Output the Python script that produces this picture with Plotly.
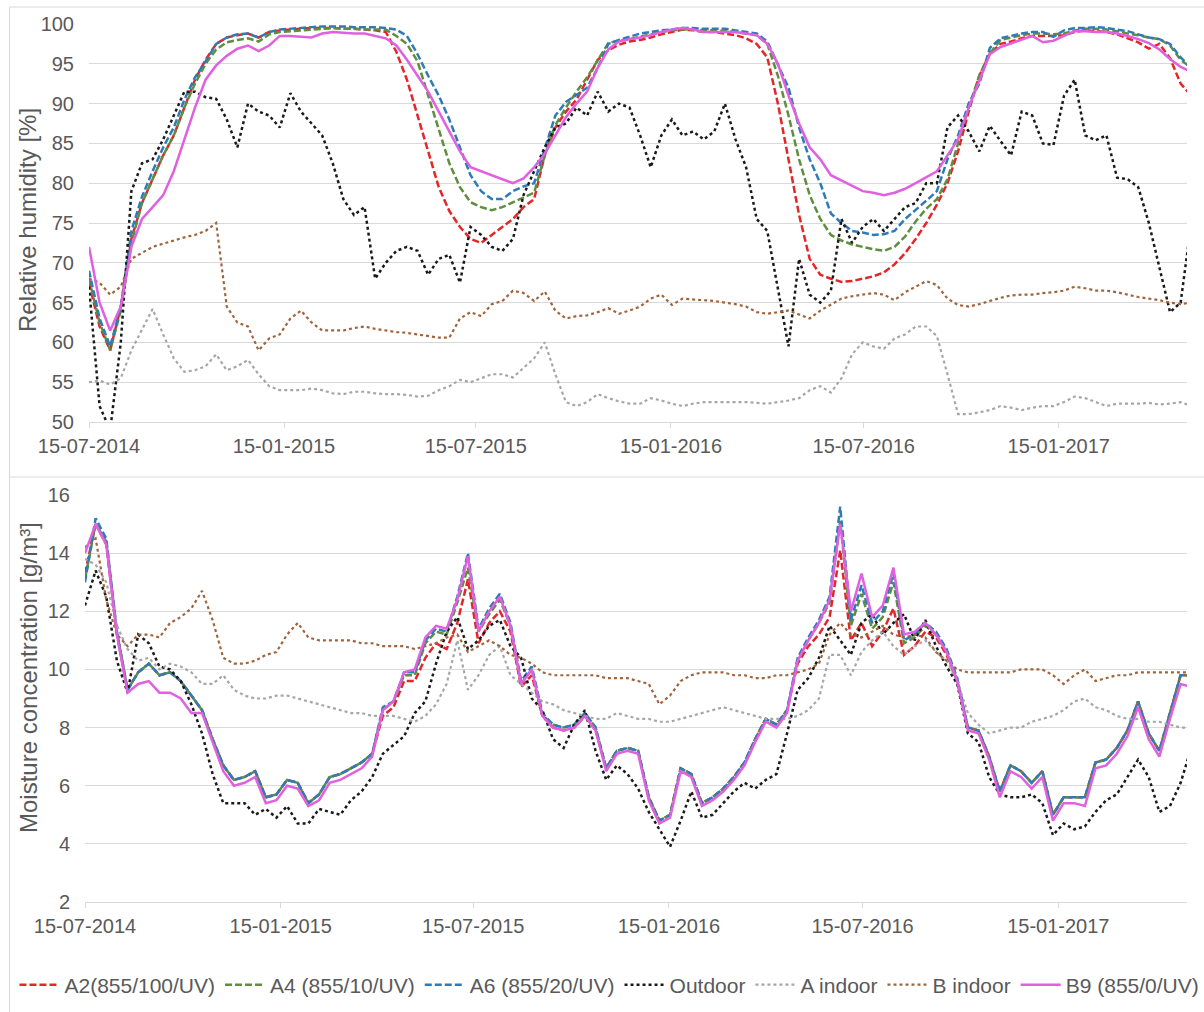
import pandas as pd
import plotly.graph_objects as go

# Sampling dates: every 10 days from 15-07-2014
dates = pd.date_range("2014-07-15", periods=105, freq="10D")

x_start = "2014-07-15"
x_end = "2017-05-16"
tick_dates = ["2014-07-15", "2015-01-15", "2015-07-15", "2016-01-15", "2016-07-15", "2017-01-15"]

series_names = ["A2(855/100/UV)", "A4 (855/10/UV)", "A6 (855/20/UV)", "Outdoor", "A indoor", "B indoor", "B9 (855/0/UV)"]

# Relative humidity [%]
rh_a2 = [67.5, 62, 59, 64.5, 73, 77.5, 80.5, 83.5, 86, 89.5,
         93, 95.5, 97.5, 98.3, 98.6, 98.8, 98.3, 99, 99.2, 99.3,
         99.4, 99.5, 99.5, 99.5, 99.4, 99.4, 99.3, 99.2, 99, 96.5,
         93, 88.5, 84, 79.5, 76.5, 74.5, 73, 72.5, 73.5, 74.5,
         75.5, 77, 78, 83.5, 87, 89, 90.5, 93, 95.5, 96.7,
         97.4, 97.8, 98, 98.3, 98.7, 99, 99.3, 99.2, 99, 99,
         98.8, 98.6, 98.2, 97.5, 95.8, 90, 83, 76, 70.5, 68.5,
         68, 67.6, 67.7, 68, 68.3, 68.8, 69.8, 71.2, 73, 75,
         77.3, 80, 84, 89, 93.5, 96.3, 97.5, 97.8, 98.2, 98.5,
         98.5, 98.5, 98.6, 99, 99.2, 99.1, 99, 98.7, 98.2, 97.7,
         96.9, 97.5, 95.7, 92.5, 91]
rh_a4 = [68, 62.5, 59, 64, 72.5, 77.5, 80.5, 83.5, 86, 89.5,
         92.5, 95, 96.8, 97.7, 98, 98.2, 97.8, 98.7, 99, 99.1,
         99.2, 99.3, 99.4, 99.5, 99.4, 99.4, 99.3, 99.3, 99.3, 98.5,
         97.5, 95.3, 91, 86.5, 82.5, 79.5, 77.6, 77, 76.6, 77,
         77.6, 78.2, 78.8, 83.5, 87.3, 89.5, 91.5, 93.3, 95.5, 97.6,
         97.9, 98.1, 98.4, 98.7, 99, 99.2, 99.3, 99.3, 99.2, 99.2,
         99.1, 99, 98.8, 98.6, 97.5, 93.5, 88.5, 83, 78.5, 75.5,
         73.5, 72.8, 72.3, 72, 71.7, 71.5, 72, 73.3, 75.2, 76.8,
         78, 80.5, 85, 89.5, 93.5, 96.3, 98, 98.3, 98.6, 98.8,
         98.8, 98.7, 98.8, 99.2, 99.4, 99.4, 99.3, 99.1, 98.8, 98.6,
         98.3, 98.1, 97.3, 95.5, 94.5]
rh_a6 = [69, 63, 59.5, 64.5, 74, 78.3, 81.5, 84.5, 87, 90.5,
         93.3, 95.3, 97.5, 98.3, 98.7, 98.8, 98.3, 99, 99.3, 99.4,
         99.5, 99.6, 99.7, 99.7, 99.7, 99.6, 99.6, 99.6, 99.5, 99.3,
         98.5, 96.2, 93.5, 91, 88, 84.5, 81, 79, 78, 78,
         79, 79.6, 80, 84.3, 88.5, 90.2, 91.1, 92, 94.5, 97.5,
         98, 98.4, 98.8, 99, 99.2, 99.3, 99.5, 99.5, 99.4, 99.4,
         99.4, 99.2, 99, 98.8, 97.8, 95, 92, 87, 83, 80,
         76.2, 75, 74, 73.8, 73.5, 73.6, 74, 75.5, 76.6, 77.8,
         79, 83, 86, 90, 92.5, 97, 98.2, 98.5, 98.8, 99,
         99, 98.4, 99.2, 99.5, 99.5, 99.6, 99.5, 99.3, 99.1, 98.7,
         98.3, 98.1, 97.5, 95.8, 94.5]
rh_out = [67, 52, 49, 60, 79, 82.5, 83, 85.5, 88.5, 91.5,
          91.5, 90.8, 90.6, 88, 84.5, 90, 89, 88.5, 87, 91.3,
          89, 87.5, 86, 82.5, 78, 76, 77, 68, 70, 71.5,
          72, 71.5, 68.5, 70.5, 71, 67.5, 74.5, 73.5, 72, 71.5,
          73, 78.5, 81.5, 84.5, 87, 87.5, 89.5, 88.5, 91.5, 89,
          90, 89.5, 86, 82, 86, 88, 86, 86.5, 85.5, 86.5,
          90, 85.5, 82, 75.5, 74, 67, 59.5, 70.5, 66, 65,
          66.5, 75.5, 72.5, 74.5, 75.5, 74, 75.5, 77, 77.5, 80,
          80, 87, 88.5, 86.5, 84, 87.2, 85.3, 83.5, 89, 88.5,
          85, 84.8, 91, 93, 86, 85.4, 86, 80.7, 80.5, 79.5,
          75, 69.5, 63.8, 65, 75]
rh_ain = [55, 55.2, 54.7, 55.5, 59, 61.5, 64.2, 61, 58, 56.3,
          56.5, 57, 58.5, 56.5, 57, 57.8, 56, 54.5, 54, 54,
          54, 54.2, 54, 53.6, 53.5, 53.8, 53.8, 53.6, 53.5, 53.5,
          53.4, 53.2, 53.3, 54, 54.5, 55.3, 55, 55.5, 56, 56,
          55.6, 56.8, 58, 60, 56, 52.5, 52, 52.5, 53.5, 53,
          52.6, 52.3, 52.3, 53, 52.7, 52.3, 52, 52.3, 52.5, 52.5,
          52.5, 52.5, 52.5, 52.4, 52.3, 52.5, 52.7, 53, 54, 54.5,
          53.7, 55.5, 58.5, 60, 59.5, 59.2, 60.5, 61, 62, 62,
          60.8, 56, 51, 51, 51.2, 51.5, 52, 51.8, 51.5, 51.8,
          52, 52, 52.5, 53.2, 53, 52.5, 52, 52.3, 52.3, 52.3,
          52.4, 52.2, 52.3, 52.5, 52]
rh_bin = [68, 67.5, 66, 67, 70.5, 71.3, 72, 72.4, 72.8, 73.2,
          73.5, 74, 75, 64.5, 62.5, 62, 59, 60.5, 61, 63,
          64, 62.5, 61.5, 61.5, 61.5, 61.8, 62, 61.7, 61.5, 61.3,
          61.2, 61, 60.8, 60.6, 60.6, 63, 63.8, 63.3, 64.8, 65.2,
          66.5, 66.2, 65.2, 66.4, 64, 63, 63.3, 63.4, 63.8, 64.3,
          63.6, 64, 64.5, 65.5, 66, 64.7, 65.5, 65.4, 65.3, 65.2,
          65, 64.8, 64.5, 63.8, 63.6, 63.8, 64, 63.5, 63, 64,
          64.8, 65.5, 65.8, 66, 66.2, 66, 65.3, 66.3, 67, 67.7,
          67.2, 65.5, 64.7, 64.5, 64.8, 65.2, 65.6, 65.9, 66, 66,
          66.2, 66.3, 66.5, 67, 66.8, 66.5, 66.5, 66.3, 66, 65.7,
          65.5, 65.3, 65, 64.8, 65]
rh_b9 = [72, 65, 61.5, 64.5, 72, 75.5, 77, 78.5, 81.5, 85.5,
         89.5, 93, 94.8, 96, 96.9, 97.3, 96.6, 97.3, 98.5, 98.5,
         98.4, 98.3, 98.8, 99, 98.9, 98.8, 98.8, 98.5, 98.2, 97.3,
         95.5, 93.5, 91.5, 89, 86.5, 84, 82, 81.5, 81, 80.5,
         80, 80.6, 82, 83.7, 86, 88.3, 90, 91.5, 94.5, 96.8,
         97.8, 98.1, 98.3, 98.6, 99, 99.3, 99.5, 99.3, 99, 99,
         99, 99, 98.8, 98.6, 97.5, 95, 91, 87.5, 84.5, 83,
         81, 80.3, 79.7, 79, 78.8, 78.5, 78.8, 79.3, 80, 80.8,
         81.5, 83.5, 85.5, 89.5, 92.8, 96.2, 97.1, 97.6, 98, 98.5,
         97.7, 97.9, 98.5, 99.1, 99.1, 99, 99, 98.8, 98.5, 98.1,
         97.6, 96.8, 95.6, 94.6, 94]

# Moisture concentration [g/m3]
mc_a2 = [13.3, 15.0, 14.3, 11.2, 9.3, 9.9, 10.2, 9.8, 9.9, 9.6,
         9.1, 8.6, 7.6, 6.7, 6.2, 6.3, 6.5, 5.6, 5.7, 6.2,
         6.1, 5.4, 5.7, 6.3, 6.4, 6.6, 6.8, 7.1, 8.4, 8.7,
         9.6, 9.6, 10.4, 10.9, 10.7, 11.6, 13.1, 10.9, 11.6, 12.0,
         11.3, 9.4, 9.8, 8.4, 8.0, 7.9, 8.0, 8.4, 7.9, 6.6,
         7.2, 7.3, 7.2, 5.6, 4.8, 5.0, 6.6, 6.4, 5.4, 5.6,
         5.9, 6.3, 6.8, 7.6, 8.3, 8.1, 8.6, 10.2, 10.8, 11.2,
         11.8, 14.1, 11.0, 11.6, 10.8, 11.3, 12.1, 10.5, 10.8, 11.3,
         11.1, 10.5, 9.6, 8.0, 7.9, 7.0, 5.8, 6.7, 6.5, 6.1,
         6.5, 5.0, 5.6, 5.6, 5.6, 6.8, 6.9, 7.3, 7.9, 8.9,
         7.8, 7.2, 8.5, 9.8, 9.8]
mc_a4 = [13.1, 15.0, 14.4, 11.3, 9.3, 9.9, 10.2, 9.8, 9.9, 9.6,
         9.1, 8.6, 7.6, 6.7, 6.2, 6.3, 6.5, 5.6, 5.7, 6.2,
         6.1, 5.4, 5.7, 6.3, 6.4, 6.6, 6.8, 7.1, 8.6, 8.9,
         9.8, 9.8, 10.9, 11.3, 11.2, 12.3, 13.5, 11.3, 11.9, 12.4,
         11.5, 9.5, 10.0, 8.4, 8.1, 8.0, 8.1, 8.5, 8.0, 6.6,
         7.2, 7.3, 7.2, 5.6, 4.8, 5.0, 6.6, 6.4, 5.4, 5.6,
         5.9, 6.3, 6.8, 7.6, 8.3, 8.1, 8.6, 10.3, 11.0, 11.6,
         12.3, 15.1, 11.5, 12.6, 11.4, 11.8, 13.0, 10.9, 11.1, 11.5,
         11.2, 10.6, 9.6, 8.0, 7.9, 7.0, 5.8, 6.7, 6.5, 6.1,
         6.5, 5.0, 5.6, 5.6, 5.6, 6.8, 6.9, 7.3, 7.9, 8.9,
         7.8, 7.2, 8.5, 9.8, 9.8]
mc_a6 = [13.0, 15.2, 14.5, 11.3, 9.3, 9.9, 10.2, 9.8, 9.9, 9.6,
         9.1, 8.6, 7.6, 6.7, 6.2, 6.3, 6.5, 5.6, 5.7, 6.2,
         6.1, 5.4, 5.7, 6.3, 6.4, 6.6, 6.8, 7.1, 8.7, 8.9,
         9.9, 9.9, 11.0, 11.4, 11.3, 12.5, 14.0, 11.4, 12.1, 12.6,
         11.6, 9.6, 10.1, 8.5, 8.1, 8.0, 8.1, 8.5, 8.0, 6.6,
         7.2, 7.3, 7.2, 5.6, 4.8, 5.0, 6.6, 6.4, 5.4, 5.6,
         5.9, 6.3, 6.8, 7.6, 8.3, 8.1, 8.6, 10.4, 11.1, 11.7,
         12.5, 15.6, 11.7, 12.9, 11.6, 12.0, 13.3, 11.0, 11.2, 11.6,
         11.3, 10.7, 9.7, 8.0, 7.9, 7.0, 5.8, 6.7, 6.5, 6.1,
         6.5, 5.0, 5.6, 5.6, 5.6, 6.8, 6.9, 7.3, 7.9, 8.9,
         7.8, 7.2, 8.5, 9.8, 9.8]
mc_out = [12.2, 13.4, 12.5, 10.3, 9.2, 11.2, 10.9, 10.1, 10.0, 9.6,
          8.8, 7.8, 6.4, 5.4, 5.4, 5.4, 5.0, 5.2, 4.9, 5.3,
          4.7, 4.7, 5.2, 5.1, 5.0, 5.5, 5.8, 6.3, 7.1, 7.4,
          7.7, 8.5, 8.9, 10.2, 11.3, 11.8, 10.7, 11.0, 11.5, 11.7,
          10.8, 10.4, 9.0, 8.6, 7.6, 7.3, 8.1, 8.6, 7.2, 6.2,
          6.7, 6.4, 5.9, 5.1, 4.5, 3.9, 4.8, 5.8, 4.9, 5.0,
          5.4, 5.8, 6.1, 5.9, 6.2, 6.4, 7.8, 9.3, 9.7, 10.4,
          11.5, 11.0, 10.5, 11.6, 11.9, 11.2, 11.6, 11.9, 11.0, 11.7,
          10.8, 10.1, 9.5, 7.8, 7.5, 6.3, 5.7, 5.6, 5.6, 5.7,
          5.4, 4.3, 4.7, 4.5, 4.6, 5.1, 5.5, 5.7, 6.3, 6.9,
          6.3, 5.1, 5.3, 6.1, 7.3]
mc_ain = [13.8, 13.6, 13.0, 11.5, 10.7, 10.3, 10.4, 10.0, 10.2, 10.1,
          9.9, 9.5, 9.5, 9.8, 9.3, 9.1, 9.0, 9.0, 9.1, 9.1,
          9.0, 8.9, 8.8, 8.7, 8.6, 8.5, 8.5, 8.4, 8.4, 8.4,
          8.3, 8.2, 8.4, 8.8, 9.5, 11.0, 9.3, 9.8, 10.5, 10.8,
          9.8, 9.5, 9.2, 8.9, 8.8, 8.6, 8.5, 8.4, 8.3, 8.3,
          8.5, 8.4, 8.3, 8.3, 8.2, 8.2, 8.3, 8.4, 8.5, 8.6,
          8.7, 8.6, 8.5, 8.4, 8.3, 8.3, 8.3, 8.4, 8.6, 9.0,
          10.5, 10.5, 9.8, 10.6, 11.0, 11.3, 10.8, 10.5, 10.8, 11.0,
          10.6, 10.3, 9.6, 8.5, 8.1, 7.8, 7.9, 8.0, 8.0, 8.2,
          8.3, 8.4, 8.6, 8.9, 9.0, 8.7, 8.6, 8.4, 8.3, 8.3,
          8.2, 8.2, 8.1, 8.0, 8.0]
mc_bin = [14.2, 14.5, 12.4, 11.2, 10.8, 11.2, 11.2, 11.1, 11.6, 11.8,
          12.1, 12.7, 11.7, 10.4, 10.2, 10.2, 10.3, 10.5, 10.6, 11.2,
          11.6, 11.1, 11.0, 11.0, 11.0, 11.0, 10.9, 10.9, 10.8, 10.8,
          10.8, 10.7, 10.8, 10.9, 11.1, 11.2, 10.6, 10.8, 11.0, 10.8,
          10.5, 10.4, 10.2, 9.9, 9.8, 9.8, 9.8, 9.8, 9.8, 9.7,
          9.7, 9.7, 9.6, 9.5, 8.8, 9.1, 9.6, 9.8, 9.9, 9.9,
          9.9, 9.8, 9.8, 9.7, 9.7, 9.8, 9.8, 9.9, 10.0, 10.2,
          11.2, 11.6, 11.2, 11.1, 11.3, 11.5, 11.2, 11.1, 11.2, 11.1,
          10.6, 10.3, 10.0, 9.9, 9.9, 9.9, 9.9, 9.9, 10.0, 10.0,
          10.0, 9.8, 9.5, 9.8, 10.0, 9.6, 9.7, 9.8, 9.8, 9.9,
          9.9, 9.9, 9.9, 9.9, 9.9]
mc_b9 = [14.0, 15.0, 14.3, 11.2, 9.2, 9.5, 9.6, 9.2, 9.2, 9.0,
         8.5, 8.5, 7.5, 6.5, 6.0, 6.1, 6.3, 5.4, 5.5, 6.0,
         5.9, 5.3, 5.5, 6.1, 6.2, 6.4, 6.6, 7.0, 8.6, 8.9,
         9.9, 10.0, 11.1, 11.5, 11.4, 12.4, 13.9, 11.3, 12.0, 12.5,
         11.5, 9.5, 10.0, 8.4, 8.0, 7.9, 8.0, 8.4, 7.9, 6.5,
         7.1, 7.2, 7.1, 5.5, 4.7, 4.9, 6.5, 6.3, 5.3, 5.5,
         5.8, 6.2, 6.7, 7.5, 8.2, 8.0, 8.5, 10.3, 11.0, 11.6,
         12.4, 15.0, 12.0, 13.3, 11.8, 12.2, 13.5, 11.2, 11.3, 11.6,
         11.2, 10.6, 9.6, 7.9, 7.8, 6.9, 5.6, 6.5, 6.3, 5.9,
         6.3, 4.8, 5.4, 5.4, 5.3, 6.6, 6.7, 7.1, 7.7, 8.7,
         7.6, 7.0, 8.3, 9.5, 9.4]

rh_series = [rh_a2, rh_a4, rh_a6, rh_out, rh_ain, rh_bin, rh_b9]
mc_series = [mc_a2, mc_a4, mc_a6, mc_out, mc_ain, mc_bin, mc_b9]

line_styles = [
    dict(color="#E3262A", width=2.5, dash="7px,3px"),
    dict(color="#5E8E3E", width=2.5, dash="7px,3px"),
    dict(color="#2E7BB8", width=2.5, dash="7px,3px"),
    dict(color="#1A1A1A", width=2.5, dash="dot"),
    dict(color="#A6A6A6", width=2.2, dash="dot"),
    dict(color="#A0643C", width=2.2, dash="dot"),
    dict(color="#E060E0", width=2.5, dash="solid"),
]

FONT = "Liberation Sans, Arial, sans-serif"
GREY = "#595959"
GRID = "#D9D9D9"
W, H = 1204, 1012

fig = go.Figure()
for name, vals, style in zip(series_names, rh_series, line_styles):
    fig.add_trace(go.Scatter(x=dates, y=vals, name=name, mode="lines",
                             line=style, xaxis="x", yaxis="y", legendgroup=name))
for name, vals, style in zip(series_names, mc_series, line_styles):
    fig.add_trace(go.Scatter(x=dates, y=vals, name=name, mode="lines",
                             line=style, xaxis="x2", yaxis="y2",
                             legendgroup=name, showlegend=False))

xaxis_common = dict(
    type="date", range=[x_start, x_end], tickvals=tick_dates, tickformat="%d-%m-%Y",
    showgrid=False, zeroline=False, showline=True, linecolor=GRID, linewidth=1,
    ticks="outside", ticklen=5, tickcolor=GRID, automargin=False,
    tickfont=dict(family=FONT, size=20, color=GREY), ticklabelstandoff=1,
)
yaxis_common = dict(
    showgrid=True, gridcolor=GRID, gridwidth=1, zeroline=False, showline=False,
    ticks="", automargin=False,
    tickfont=dict(family=FONT, size=20, color=GREY), ticklabelstandoff=14,
)

fig.update_layout(
    width=W, height=H,
    margin=dict(l=0, r=0, t=0, b=0, autoexpand=False),
    paper_bgcolor="white", plot_bgcolor="white",
    font=dict(family=FONT, color=GREY, size=20),
    xaxis=dict(xaxis_common, domain=[89 / W, 1187 / W], anchor="y"),
    yaxis=dict(yaxis_common, domain=[1 - 422 / H, 1 - 24 / H], range=[50, 100], dtick=5, anchor="x"),
    xaxis2=dict(xaxis_common, domain=[85 / W, 1187 / W], anchor="y2"),
    yaxis2=dict(yaxis_common, domain=[1 - 902 / H, 1 - 495 / H], range=[2, 16], dtick=2, anchor="x2"),
    legend=dict(orientation="h", x=0.012, xanchor="left", y=1 - 985 / H, yanchor="middle",
                itemwidth=40, font=dict(family=FONT, size=21, color=GREY),
                bgcolor="rgba(0,0,0,0)"),
    showlegend=True,
    annotations=[
        dict(text="Relative humidity [%]", x=28 / W, y=1 - 220 / H, xref="paper", yref="paper",
             textangle=-90, showarrow=False, xanchor="center", yanchor="middle",
             font=dict(family=FONT, size=24, color=GREY)),
        dict(text="Moisture concentration [g/m³]", x=28 / W, y=1 - 678 / H, xref="paper", yref="paper",
             textangle=-90, showarrow=False, xanchor="center", yanchor="middle",
             font=dict(family=FONT, size=24, color=GREY)),
    ],
    shapes=[
        dict(type="line", xref="paper", yref="paper", x0=9.5 / W, x1=9.5 / W, y0=0, y1=1 - 7 / H,
             line=dict(color=GRID, width=1)),
        dict(type="line", xref="paper", yref="paper", x0=9.5 / W, x1=1, y0=1 - 7 / H, y1=1 - 7 / H,
             line=dict(color=GRID, width=1)),
        dict(type="line", xref="paper", yref="paper", x0=9.5 / W, x1=1, y0=1 - 477 / H, y1=1 - 477 / H,
             line=dict(color=GRID, width=1)),
    ],
)

fig.write_html("out.html")
